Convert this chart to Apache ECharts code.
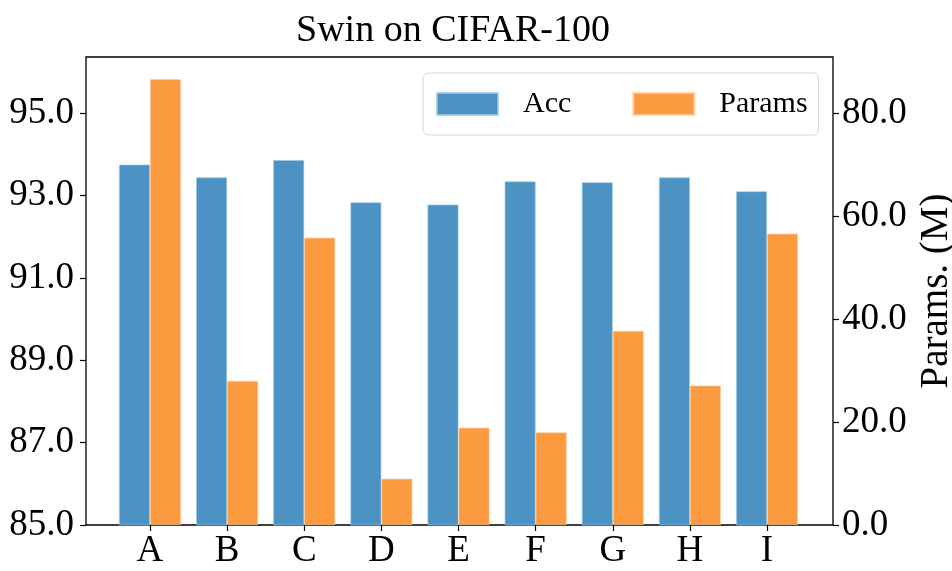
<!DOCTYPE html>
<html>
<head>
<meta charset="utf-8">
<script src="https://cdn.jsdelivr.net/npm/echarts@6/dist/echarts.min.js"></script>
<style>
  html, body { margin: 0; padding: 0; background: #fff; }
  #chart { width: 952px; height: 571px; }
</style>
</head>
<body>
<div id="chart"></div>
<script>
const categories = ['A', 'B', 'C', 'D', 'E', 'F', 'G', 'H', 'I'];
const accValues = [93.75, 93.44, 93.86, 92.83, 92.78, 93.34, 93.32, 93.44, 93.10];
const paramValues = [86.6, 28.0, 55.8, 9.0, 18.9, 18.0, 37.7, 27.1, 56.6];
const accTicks = [85, 87, 89, 91, 93, 95];
const paramTicks = [0, 20, 40, 60, 80];

const serif = '"Liberation Serif", "DejaVu Serif", serif';

const chart = echarts.init(document.getElementById('chart'));

chart.setOption({
    animation: false,
    title: {
        text: 'Swin on CIFAR-100',
        left: 296,
        top: 12,
        padding: 0,
        textStyle: { fontFamily: serif, fontSize: 38, fontWeight: 'normal', color: '#000' }
    },
    legend: {
        left: 423,
        top: 73,
        padding: [16, 11, 16, 13],
        itemWidth: 61,
        itemHeight: 22,
        itemGap: 61,
        icon: 'rect',
        backgroundColor: '#fff',
        borderColor: '#d4d4d4',
        borderWidth: 1,
        borderRadius: 5,
        textStyle: { fontFamily: serif, fontSize: 30, color: '#000', padding: [0, 0, 0, 20] },
        data: ['Acc', 'Params']
    },
    grid: [
        // bars
        { left: 111.4, right: 146.4, top: 57, bottom: 46, outerBoundsMode: 'none', containLabel: false },
        // frame
        { left: 86, right: 119, top: 57, bottom: 46, outerBoundsMode: 'none', containLabel: false,
          show: true, borderColor: '#000', borderWidth: 1.3, backgroundColor: 'transparent' }
    ],
    xAxis: [
        {
            type: 'category',
            gridIndex: 0,
            data: categories,
            axisLine: { show: false },
            axisTick: { show: true, alignWithLabel: true, length: 6, lineStyle: { color: '#000', width: 1.2 } },
            axisLabel: { fontFamily: serif, fontSize: 37, color: '#000', margin: 8 }
        },
        { type: 'value', gridIndex: 1, show: false }
    ],
    yAxis: [
        {
            type: 'value',
            gridIndex: 0,
            position: 'left',
            offset: 25.4,
            min: 85,
            max: 96.36,
            interval: 2,
            splitLine: { show: false },
            axisLine: { show: false },
            axisTick: { show: true, length: 6, customValues: accTicks, lineStyle: { color: '#000', width: 1.2 } },
            axisLabel: {
                customValues: accTicks,
                fontFamily: serif, fontSize: 37, color: '#000', margin: 12,
                formatter: function (v) { return v.toFixed(1); }
            }
        },
        {
            type: 'value',
            gridIndex: 0,
            position: 'right',
            offset: 27.4,
            min: 0,
            max: 90.9,
            interval: 20,
            name: 'Params. (M)',
            nameLocation: 'middle',
            nameRotate: 90,
            nameGap: 80,
            nameTextStyle: { fontFamily: serif, fontSize: 39, color: '#000' },
            splitLine: { show: false },
            axisLine: { show: false },
            axisTick: { show: true, length: 6, customValues: paramTicks, lineStyle: { color: '#000', width: 1.2 } },
            axisLabel: {
                customValues: paramTicks,
                fontFamily: serif, fontSize: 37, color: '#000', margin: 9,
                formatter: function (v) { return v.toFixed(1); }
            }
        },
        { type: 'value', gridIndex: 1, show: false }
    ],
    series: [
        {
            name: 'Acc',
            type: 'bar',
            xAxisIndex: 0,
            yAxisIndex: 0,
            barWidth: 31,
            barGap: '0%',
            itemStyle: { color: '#4C92C3', borderColor: 'rgba(160,200,230,0.8)', borderWidth: 0.8 },
            data: accValues
        },
        {
            name: 'Params',
            type: 'bar',
            xAxisIndex: 0,
            yAxisIndex: 1,
            barWidth: 31,
            barGap: '0%',
            itemStyle: { color: '#FC9A40', borderColor: 'rgba(255,205,160,0.8)', borderWidth: 0.8 },
            data: paramValues
        }
    ]
});
</script>
</body>
</html>
